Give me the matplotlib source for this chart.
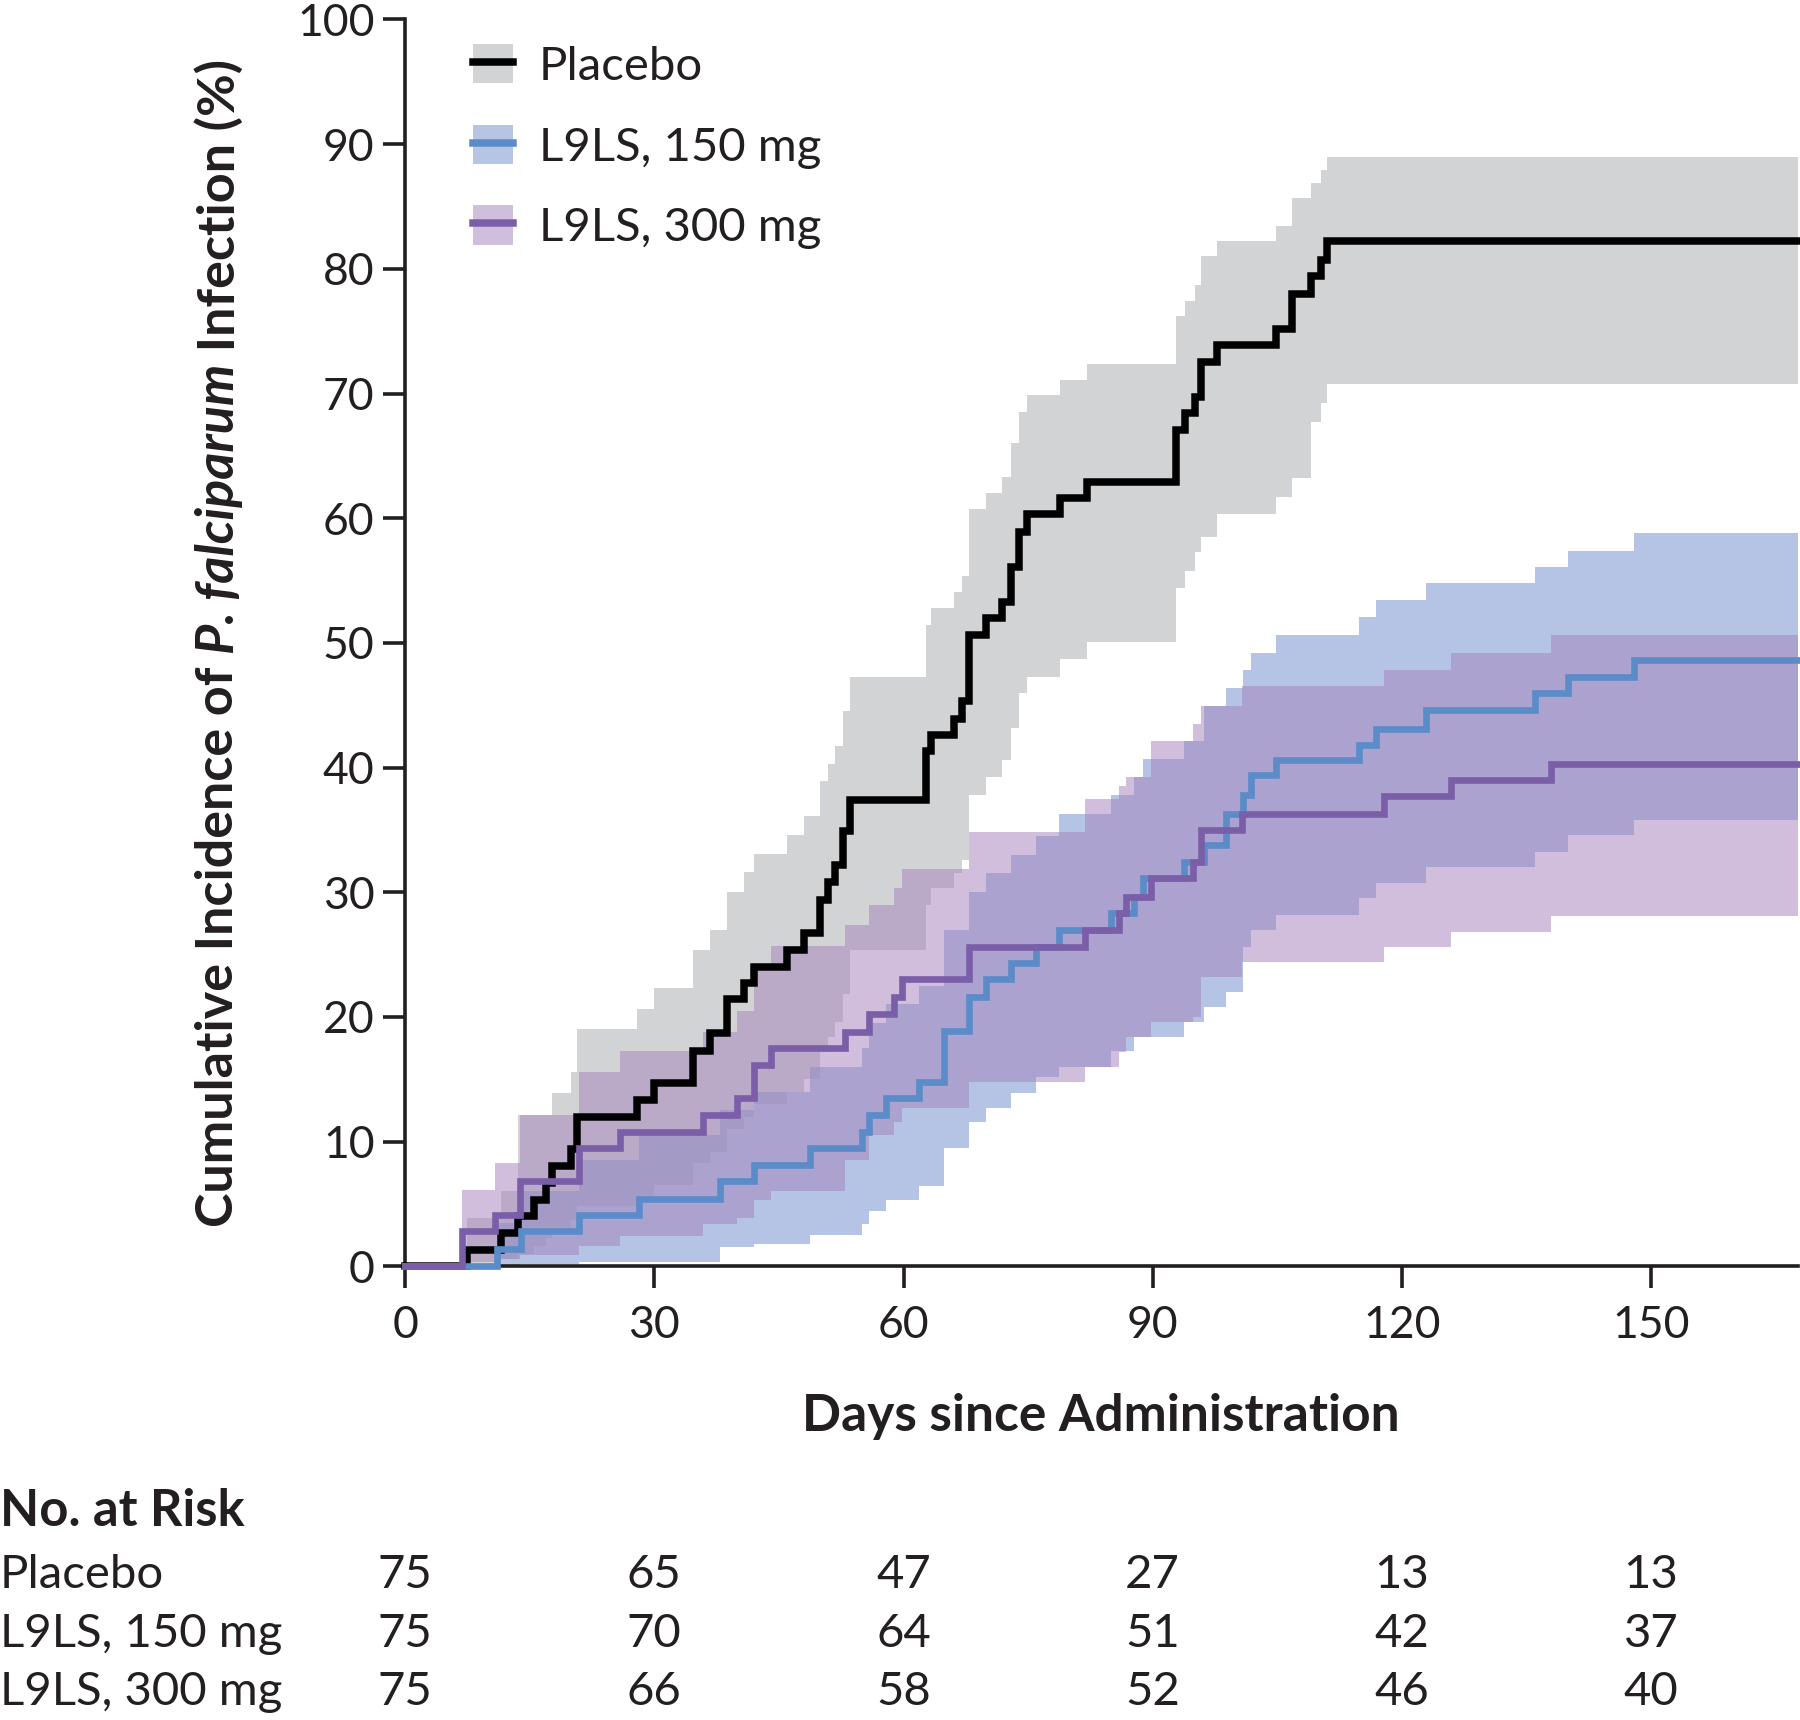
import numpy as np
import matplotlib
matplotlib.use("Agg")
import matplotlib.pyplot as plt
from matplotlib.patches import Patch
from matplotlib.lines import Line2D
from matplotlib.transforms import blended_transform_factory

plt.rcParams['font.family'] = ['Lato', 'DejaVu Sans']

# ---------------- data ----------------
days_end = 167.7
x_ticks = [0, 30, 60, 90, 120, 150]
y_ticks = list(range(0, 101, 10))

placebo_t = [0, 7.5, 11.5, 13.6, 15.5, 17.0, 17.7, 20.0, 20.7, 27.9, 29.9, 34.7, 36.7, 38.8, 40.8,
             42.0, 46.0, 48.0, 50.0, 50.9, 51.8, 52.7, 53.6, 62.7, 63.3, 66.1, 67.1, 67.9, 69.9, 71.9,
             72.9, 73.9, 74.9, 78.9, 82.1, 92.8, 93.9, 95.1, 95.8, 97.8, 104.8, 106.8, 109.1, 110.3, 111.0]
placebo_km = [0, 1.3, 2.7, 4.0, 5.3, 6.7, 8.0, 9.4, 12.0, 13.3, 14.7, 17.3, 18.7, 21.4, 22.7,
              24.0, 25.4, 26.7, 29.4, 30.8, 32.2, 34.9, 37.4, 41.3, 42.6, 43.9, 45.3, 50.6, 52.0, 53.3,
              56.1, 58.9, 60.3, 61.6, 62.9, 67.1, 68.4, 69.7, 72.5, 73.9, 75.2, 78.0, 79.4, 80.7, 82.2]
placebo_hi = [0, 3.9, 6.0, 12.1, 12.1, 12.1, 13.9, 15.6, 19.0, 20.6, 22.3, 25.4, 27.0, 30.0, 31.6,
              33.1, 34.6, 36.1, 38.9, 40.3, 41.7, 44.5, 47.3, 51.4, 52.8, 54.1, 55.4, 60.7, 62.0, 63.3,
              66.0, 68.5, 69.9, 71.1, 72.4, 76.2, 77.4, 78.7, 81.0, 82.2, 83.4, 85.7, 86.9, 87.9, 89.0]
placebo_lo = [0, 0.2, 0.6, 1.0, 1.6, 2.3, 3.0, 3.7, 4.8, 5.6, 6.5, 8.3, 9.2, 11.0, 12.0,
              13.0, 14.0, 15.0, 17.2, 18.4, 19.6, 21.8, 25.4, 29.0, 30.3, 31.5, 32.6, 37.8, 39.2, 40.6,
              43.2, 46.0, 47.3, 48.7, 50.1, 54.4, 55.8, 57.3, 58.5, 60.3, 61.7, 63.2, 67.7, 69.2, 70.8]

mg150_t = [0, 11.0, 14.0, 20.9, 28.1, 37.9, 42.0, 48.8, 55.0, 55.8, 57.9, 61.9, 64.9, 67.9, 69.9,
           72.9, 75.9, 78.7, 85.0, 87.8, 88.8, 93.8, 96.2, 98.8, 100.9, 101.8, 104.8, 114.9, 116.9, 122.9,
           136.0, 140.0, 148.0]
mg150_km = [0, 1.4, 2.8, 4.1, 5.4, 6.8, 8.1, 9.5, 10.8, 12.1, 13.5, 14.8, 18.9, 21.6, 23.0,
            24.3, 25.6, 27.0, 28.3, 29.6, 31.1, 32.4, 33.8, 36.3, 37.8, 39.4, 40.6, 41.8, 43.1, 44.6,
            46.0, 47.3, 48.6]
mg150_hi = [0, 3.5, 6.0, 8.5, 10.5, 12.5, 14.0, 16.0, 17.5, 19.5, 21.0, 22.5, 27.0, 30.0, 31.5,
            33.0, 34.5, 36.3, 37.8, 39.2, 40.7, 42.1, 44.9, 46.4, 47.8, 49.2, 50.6, 52.1, 53.4, 54.8,
            56.1, 57.4, 58.8]
mg150_lo = [0, 0, 0.2, 0.3, 0.3, 1.5, 1.8, 2.5, 3.4, 4.4, 5.3, 6.4, 9.5, 11.6, 12.7,
            13.9, 15.2, 16.0, 17.3, 18.4, 18.4, 19.6, 20.8, 22.0, 25.6, 27.0, 28.2, 29.5, 30.7, 32.0,
            33.2, 34.6, 35.8]

mg300_t = [0, 6.8, 10.8, 13.8, 20.9, 25.9, 35.9, 40.0, 42.0, 44.0, 53.0, 55.8, 58.8, 59.8, 67.9,
           81.9, 86.0, 86.8, 89.8, 94.8, 95.8, 100.8, 117.8, 125.9, 138.0]
mg300_km = [0, 2.8, 4.1, 6.8, 9.5, 10.8, 12.1, 13.5, 16.1, 17.5, 18.8, 20.2, 21.6, 23.0, 25.6,
            27.0, 28.3, 29.6, 31.1, 32.4, 35.0, 36.3, 37.7, 39.0, 40.3]
mg300_hi = [0, 6.1, 8.3, 12.1, 15.6, 17.3, 18.8, 20.5, 23.9, 25.7, 27.4, 29.0, 30.3, 31.9, 34.8,
            37.5, 38.5, 39.2, 42.1, 43.5, 44.9, 46.5, 47.8, 49.2, 50.6]
mg300_lo = [0, 0.3, 0.6, 0.9, 1.6, 2.4, 3.4, 3.9, 5.3, 6.0, 8.5, 10.5, 11.6, 12.7, 14.8,
            16.0, 17.2, 18.4, 19.6, 20.0, 23.2, 24.4, 25.6, 26.8, 28.1]

group_labels = ["Placebo", "L9LS, 150 mg", "L9LS, 300 mg"]
risk_placebo = [75, 65, 47, 27, 13, 13]
risk_150 = [75, 70, 64, 51, 42, 37]
risk_300 = [75, 66, 58, 52, 46, 40]

# ---------------- styles ----------------
c_grey_band = '#d1d3d4'
c_blue_band = (133/255, 158/255, 210/255, 0.60)
c_purp_band = (165/255, 132/255, 188/255, 0.52)
c_black = '#000000'
c_blue = '#5b8cc8'
c_purp = '#7b5ea8'
c_text = '#231f20'

W, H = 1800, 1720
fig = plt.figure(figsize=(W/100, H/100), dpi=100)
ax = fig.add_axes([405.2/W, 1 - 1266.2/H, (1798.0-405.2)/W, (1266.2-19.5)/H])


def ext(t, v):
    return np.append(np.asarray(t, float), days_end), np.append(np.asarray(v, float), v[-1])


for t, lo, hi, col, z in [(placebo_t, placebo_lo, placebo_hi, c_grey_band, 1.0),
                          (mg150_t, mg150_lo, mg150_hi, c_blue_band, 1.1),
                          (mg300_t, mg300_lo, mg300_hi, c_purp_band, 1.2)]:
    x, ylo = ext(t, lo)
    _, yhi = ext(t, hi)
    ax.fill_between(x, ylo, yhi, step='post', color=col, lw=0, zorder=z)

for t, v, col, lw, z in [(placebo_t, placebo_km, c_black, 5.4, 3.0),
                         (mg150_t, mg150_km, c_blue, 4.8, 3.1),
                         (mg300_t, mg300_km, c_purp, 4.8, 3.2)]:
    x, y = ext(t, v)
    ax.step(x, y, where='post', color=col, lw=lw, zorder=z, clip_on=False, solid_joinstyle='miter')

ax.set_xlim(0, days_end)
ax.set_ylim(0, 100)
ax.set_xticks(x_ticks)
ax.set_yticks(y_ticks)
for s in ['top', 'right']:
    ax.spines[s].set_visible(False)
for s in ['left', 'bottom']:
    ax.spines[s].set_linewidth(2.6)
    ax.spines[s].set_color(c_text)
    ax.spines[s].set_zorder(2.5)
ax.tick_params(axis='both', direction='out', length=16, width=2.6, colors=c_text,
               labelsize=32, labelcolor=c_text)
ax.tick_params(axis='y', pad=6)
ax.tick_params(axis='x', pad=12)

# legend
handles = [(Patch(fc=c_grey_band, ec='none'), Line2D([], [], color=c_black, lw=5.4)),
           (Patch(fc=(182/255, 197/255, 228/255), ec='none'), Line2D([], [], color=c_blue, lw=5.4)),
           (Patch(fc=(208/255, 191/255, 220/255), ec='none'), Line2D([], [], color=c_purp, lw=5.4))]
leg = ax.legend(handles, group_labels, loc='upper left', bbox_to_anchor=(473/W, 1 - 44/H),
                bbox_transform=fig.transFigure, frameon=False, fontsize=34,
                handlelength=0.85, handleheight=0.9, handletextpad=0.55, labelspacing=0.78,
                borderpad=0, borderaxespad=0)
for txt in leg.get_texts():
    txt.set_color(c_text)

# x label
fig.text(1101/W, 1 - 1417/H, "Days since Administration", ha='center', va='center',
         fontsize=37, fontweight='bold', color=c_text)

# y label built from pieces (italic species name)
fig.canvas.draw()
rend = fig.canvas.get_renderer()
parts = [("Cumulative Incidence of ", 'normal'), ("P. falciparum", 'italic'), (" Infection (%)", 'normal')]
objs, hs = [], []
for s, st in parts:
    tx = fig.text(0, 0, s, rotation=90, fontsize=37.5, fontweight='bold', fontstyle=st,
                  ha='center', va='bottom', color=c_text)
    bb = tx.get_window_extent(rend)
    objs.append(tx)
    hs.append(bb.height)
cx, cy = 219, H - 643
yy = cy - sum(hs) / 2
for tx, h in zip(objs, hs):
    tx.set_position((cx / W, yy / H))
    yy += h

# number at risk table
fig.text(0.0, 1 - 1511/H, "No. at Risk", ha='left', va='center', fontsize=36.5,
         fontweight='bold', color=c_text)
trans = blended_transform_factory(ax.transData, fig.transFigure)
row_y = [1 - 1575/H, 1 - 1634/H, 1 - 1692/H]
for lab, vals, yv in zip(group_labels, [risk_placebo, risk_150, risk_300], row_y):
    fig.text(0.0, yv, lab, ha='left', va='center', fontsize=34, color=c_text)
    for xv, n in zip(x_ticks, vals):
        ax.text(xv, yv, str(n), transform=trans, ha='center', va='center', fontsize=34,
                color=c_text, clip_on=False)

fig.savefig("out.png", dpi=100)
